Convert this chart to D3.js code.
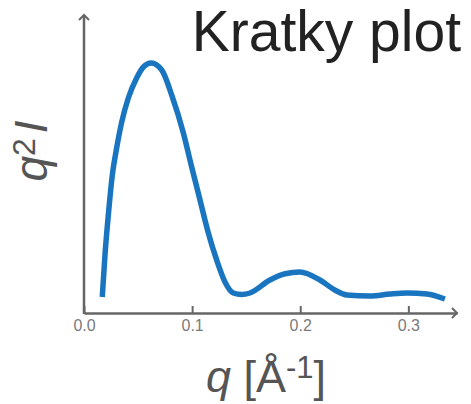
<!DOCTYPE html>
<meta charset="utf-8">
<script src="https://cdn.jsdelivr.net/npm/d3@7"></script>
<style>
  body { margin: 0; background: #fff; }
  text { font-family: "Liberation Sans", Arial, sans-serif; }
</style>
<svg id="chart" width="471" height="404"></svg>
<script>
// q values [1/A] and q^2*I (arbitrary units, peak = 1)
var qVals = [0.0169, 0.0194, 0.0225, 0.0262, 0.0302, 0.0349, 0.041, 0.0487, 0.0549, 0.062, 0.0719, 0.0811, 0.0919, 0.0996, 0.1073, 0.115, 0.1227, 0.1304, 0.1381, 0.1458, 0.1535, 0.172, 0.186, 0.1997, 0.2182, 0.232, 0.2432, 0.2645, 0.283, 0.2987, 0.3172, 0.3338];
var kratkyVals = [0.064, 0.232, 0.392, 0.552, 0.66, 0.764, 0.86, 0.94, 0.984, 1.0, 0.972, 0.872, 0.72, 0.584, 0.452, 0.32, 0.212, 0.124, 0.08, 0.074, 0.08, 0.132, 0.157, 0.164, 0.132, 0.092, 0.072, 0.068, 0.076, 0.08, 0.076, 0.056];
var xTicks = [0, 0.1, 0.2, 0.3];

var svg = d3.select("#chart");
var axisCol = "#666";

var x = d3.scaleLinear().domain([0, 0.345]).range([84, 457]);
var y = d3.scaleLinear().domain([0, 1]).range([313, 63]);
var y0 = y(0), yTop = 15;

// x axis, ticks pointing up
var xAxis = svg.append("g")
  .attr("transform", "translate(0," + y0 + ")")
  .attr("font-size", 16)
  .call(d3.axisBottom(x).tickValues(xTicks).tickFormat(d3.format(".1f"))
    .tickSizeInner(-7).tickSizeOuter(0).tickPadding(7));
xAxis.attr("font-size", 16).attr("font-family", "'Liberation Sans', Arial, sans-serif");
xAxis.select(".domain").attr("stroke", axisCol).attr("stroke-width", 2.5);
xAxis.selectAll(".tick line").attr("stroke", axisCol).attr("stroke-width", 2);
xAxis.selectAll(".tick text").attr("fill", "#7a7a7a");

// y axis line
svg.append("line").attr("x1", x(0)).attr("x2", x(0)).attr("y1", y0 + 1).attr("y2", yTop)
  .attr("stroke", axisCol).attr("stroke-width", 2.5);

// arrows
var xEnd = x.range()[1];
svg.append("path").attr("d", "M" + (xEnd - 5) + "," + (y0 - 5) + "L" + xEnd + "," + y0 + "L" + (xEnd - 5) + "," + (y0 + 5))
  .attr("fill", "none").attr("stroke", axisCol).attr("stroke-width", 2);
svg.append("path").attr("d", "M" + (x(0) - 5) + "," + (yTop + 5) + "L" + x(0) + "," + yTop + "L" + (x(0) + 5) + "," + (yTop + 5))
  .attr("fill", "none").attr("stroke", axisCol).attr("stroke-width", 2);

// curve
var line = d3.line()
  .x(function (d, i) { return x(qVals[i]); })
  .y(function (d) { return y(d); })
  .curve(d3.curveMonotoneX);
svg.append("path").datum(kratkyVals).attr("d", line)
  .attr("fill", "none").attr("stroke", "#1a75c0").attr("stroke-width", 5.5)
  .attr("stroke-linecap", "butt");

// title
svg.append("text").attr("x", 461).attr("y", 51).attr("text-anchor", "end")
  .attr("font-size", 57).attr("fill", "#222").text("Kratky plot");

// x label
var xl = svg.append("text").attr("x", 266).attr("y", 392).attr("text-anchor", "middle")
  .attr("font-size", 45).attr("fill", "#555");
xl.append("tspan").attr("font-style", "italic").text("q");
xl.append("tspan").text(" [Å");
xl.append("tspan").attr("font-size", 31).attr("dy", -14).text("-1");
xl.append("tspan").attr("dy", 14).text("]");

// y label
var yl = svg.append("text").attr("transform", "translate(47,151) rotate(-90)")
  .attr("text-anchor", "middle").attr("font-size", 46).attr("fill", "#555");
yl.append("tspan").attr("font-style", "italic").text("q");
yl.append("tspan").attr("font-size", 32).attr("dy", -12).text("2");
yl.append("tspan").attr("font-style", "italic").attr("dy", 12).attr("dx", 5).text("I");
</script>
